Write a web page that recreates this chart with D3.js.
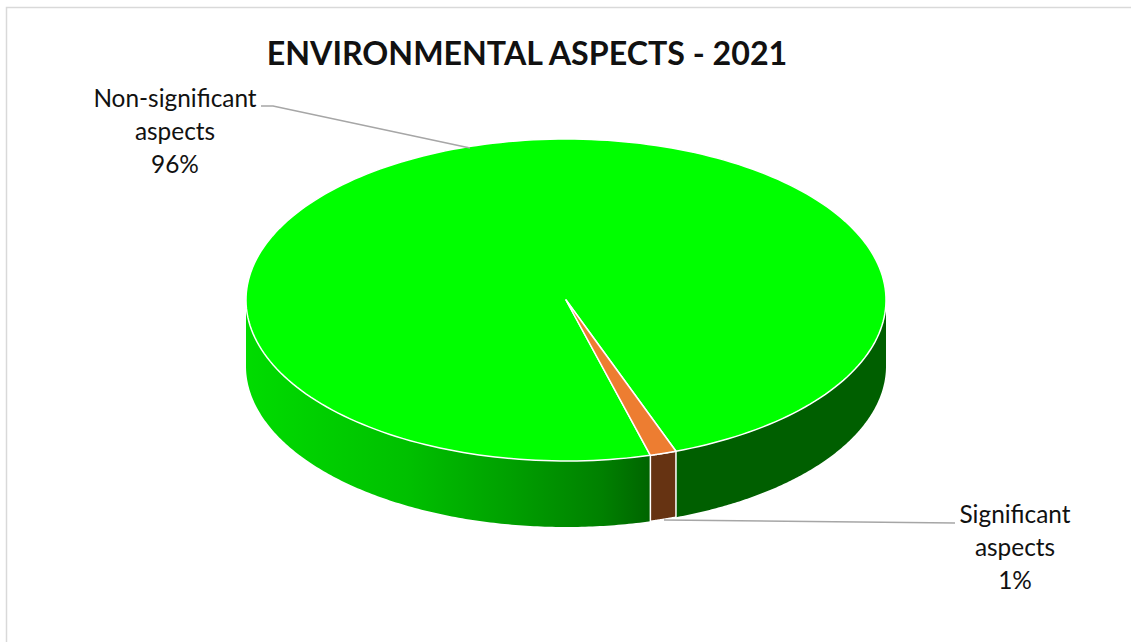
<!DOCTYPE html>
<html><head><meta charset="utf-8">
<style>html,body{margin:0;padding:0;background:#fff;overflow:hidden}svg{display:block}text{font-family:Lato,sans-serif;fill:#111}</style>
<script src="https://cdnjs.cloudflare.com/ajax/libs/d3/7.8.5/d3.min.js"></script>
</head><body><script>
const categories = ["Non-significant aspects", "Significant aspects"];
const seriesValues = [96, 1.3];
const percentLabels = ["96%", "1%"];
const chartTitle = "ENVIRONMENTAL ASPECTS - 2021";

const W = 1131, H = 642, cx = 566, cy = 300, rx = 320, ry = 161, depth = 66;
const svg = d3.select("body").append("svg").attr("width", W).attr("height", H);
svg.append("rect").attr("x", 6.5).attr("y", 7.5).attr("width", W).attr("height", H).attr("fill", "#fff").attr("stroke", "#d9d9d9").attr("stroke-width", 1.5);

const defs = svg.append("defs");
const g1 = defs.append("linearGradient").attr("id", "sideA").attr("gradientUnits", "userSpaceOnUse").attr("x1", 245).attr("x2", 651).attr("y1", 0).attr("y2", 0);
[[0, "#00dc00"], [0.4, "#00c000"], [0.65, "#00a000"], [0.88, "#008000"], [1, "#006400"]].forEach(s => g1.append("stop").attr("offset", s[0]).attr("stop-color", s[1]));

const total = d3.sum(seriesValues);
const sigSweep = seriesValues[1] / total * 2 * Math.PI;
const sigStart = Math.PI - 20.1 * Math.PI / 180;
const arcs = d3.pie().sort(null).startAngle(sigStart + sigSweep).endAngle(sigStart + sigSweep + 2 * Math.PI)(seriesValues);

const px = a => cx + rx * Math.sin(a);
const py = a => cy - ry * Math.cos(a);
function wedge(a0, a1) {
  const n = 240, pts = d3.range(n + 1).map(i => { const a = a0 + (a1 - a0) * i / n; return [px(a), py(a)]; });
  return d3.line()([[cx, cy], ...pts]) + "Z";
}
function wall(a0, a1) {
  const n = 160, top = d3.range(n + 1).map(i => { const a = a0 + (a1 - a0) * i / n; return [px(a), py(a)]; });
  const bot = top.slice().reverse().map(p => [p[0], p[1] + depth]);
  return d3.line()([...top, ...bot]) + "Z";
}
const sigArc = arcs[1], nonArc = arcs[0];
const A = sigArc.startAngle - 2 * Math.PI, B = sigArc.endAngle - 2 * Math.PI;

// side walls
svg.append("path").attr("d", wall(Math.PI / 2, A)).attr("fill", "#005f00");
svg.append("path").attr("d", wall(B, Math.PI * 1.5)).attr("fill", "url(#sideA)");
svg.append("path").attr("d", wall(A, B)).attr("fill", "#663312").attr("stroke", "#fff").attr("stroke-width", 1.5);

// top face
const colors = ["#00ff00", "#ed7d31"];
svg.append("path").attr("d", wedge(nonArc.startAngle, nonArc.endAngle)).attr("fill", colors[0]).attr("stroke", "#fff").attr("stroke-width", 1.5).attr("stroke-linejoin", "round");
svg.append("path").attr("d", wedge(A, B)).attr("fill", colors[1]).attr("stroke", "#fff").attr("stroke-width", 1.5).attr("stroke-linejoin", "round");

// leader lines
const lead = d3.line();
svg.append("path").attr("d", lead([[261, 106], [273, 106], [470, 148]])).attr("fill", "none").attr("stroke", "#a6a6a6").attr("stroke-width", 1.5);
svg.append("path").attr("d", lead([[664, 520], [955, 523]])).attr("fill", "none").attr("stroke", "#a6a6a6").attr("stroke-width", 1.5);

// labels
svg.append("text").attr("x", 527).attr("y", 65).attr("text-anchor", "middle").attr("font-size", 32.2).attr("font-weight", 700).text(chartTitle);
function label(x, y, lines) {
  const t = svg.append("text").attr("text-anchor", "middle").attr("font-size", 24.4);
  lines.forEach((l, i) => t.append("tspan").attr("x", x).attr("y", y + i * 33).text(l));
}
const split = s => { const i = s.lastIndexOf(" "); return [s.slice(0, i), s.slice(i + 1)]; };
label(175, 107, [...split(categories[0]), percentLabels[0]]);
label(1015, 523, [...split(categories[1]), percentLabels[1]]);
</script></body></html>
